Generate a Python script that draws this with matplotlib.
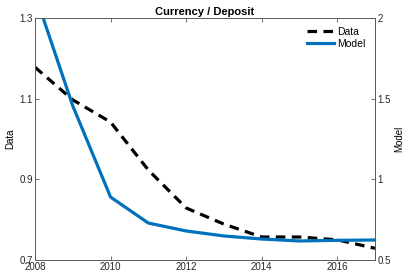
import numpy as np
import matplotlib
matplotlib.use("Agg")
import matplotlib.pyplot as plt

plt.rcParams['font.family'] = ['Liberation Sans', 'DejaVu Sans']

years = [2008, 2009, 2010, 2011, 2012, 2013, 2014, 2015, 2016, 2017]
data_vals = [1.178, 1.097, 1.042, 0.923, 0.829, 0.789, 0.757, 0.757, 0.750, 0.729]
model_vals = [2.15, 1.455, 0.89, 0.729, 0.68, 0.649, 0.63, 0.618, 0.622, 0.624]

ax_col = '#595959'

fig = plt.figure(figsize=(4.09, 2.73), dpi=100)
ax = fig.add_axes([0.0856, 0.0476, 0.8314, 0.8864])
ax2 = ax.twinx()

l1, = ax.plot(years, data_vals, color='black', lw=2.3, ls='--', dashes=(3, 2))
l2, = ax2.plot(years, model_vals, color='#0072BD', lw=2.3)

ax.set_xlim(2008, 2017)
ax.set_ylim(0.7, 1.3)
ax2.set_ylim(0.5, 2)
ax.set_xticks([2008, 2010, 2012, 2014, 2016])
ax.set_yticks([0.7, 0.9, 1.1, 1.3])
ax2.set_yticks([0.5, 1, 1.5, 2])
ax2.set_yticklabels(['0.5', '1', '1.5', '2'])

for a in (ax, ax2):
    for s in a.spines.values():
        s.set_color(ax_col)
        s.set_linewidth(0.6)
    a.tick_params(direction='in', length=3, width=0.6, color=ax_col,
                  labelsize=7, pad=1.5, labelcolor='#262626')
ax.tick_params(axis='x', top=True)

ax.set_ylabel('Data', fontsize=7, labelpad=3)
ax2.set_ylabel('Model', fontsize=7, labelpad=3)
ax.set_title('Currency / Deposit', fontsize=8, fontweight='bold', pad=2)

ax2.legend([l1, l2], ['Data', 'Model'], loc='upper right', frameon=False,
           fontsize=7.5, handlelength=2.6, bbox_to_anchor=(0.99, 0.99),
           borderaxespad=0.2, handletextpad=0.3, labelspacing=0.2)

fig.savefig('out.png', dpi=100)
